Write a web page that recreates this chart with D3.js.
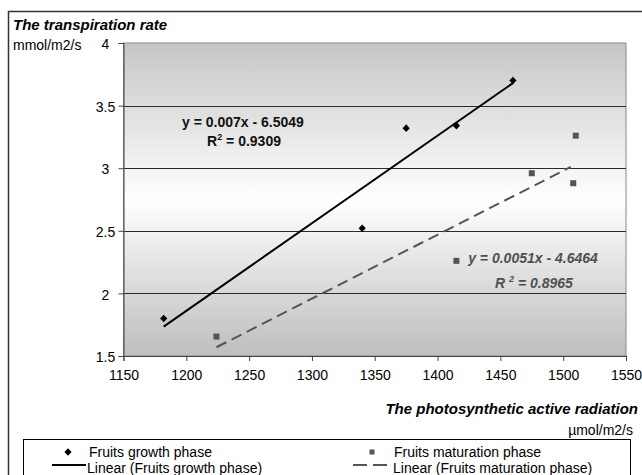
<!DOCTYPE html>
<html><head><meta charset="utf-8">
<script src="https://cdn.jsdelivr.net/npm/d3@7"></script>
<style>
html,body{margin:0;padding:0;background:#fff;}
svg{display:block;font-family:"Liberation Sans",Arial,sans-serif;}
</style></head>
<body><svg id="c" width="642" height="475"></svg>
<script>
// ---- data ----
const growthX = [1182, 1340, 1375, 1415, 1460];
const growthY = [1.80, 2.52, 3.32, 3.34, 3.70];
const maturX = [1224, 1415, 1475, 1508, 1510];
const maturY = [1.655, 2.26, 2.96, 2.88, 3.26];
const growthTrendX = [1182, 1460];
const growthTrendY = [1.735, 3.68];
const maturTrendX = [1224, 1506];
const maturTrendY = [1.57, 3.01];
const xTicks = [1150, 1200, 1250, 1300, 1350, 1400, 1450, 1500, 1550];
const yTicks = [1.5, 2, 2.5, 3, 3.5, 4];
const seriesNames = ["Fruits growth phase", "Fruits maturation phase",
  "Linear (Fruits growth phase)", "Linear (Fruits maturation phase)"];

const svg = d3.select("#c");
const x = d3.scaleLinear().domain([1150, 1550]).range([123.5, 626]);
const y = d3.scaleLinear().domain([1.5, 4]).range([356, 43]);

// outer border
svg.append("rect").attr("x", 8.5).attr("y", 11.5).attr("width", 640).attr("height", 470)
  .attr("fill", "none").attr("stroke", "#333").attr("stroke-width", 1.5);

// gradient
const defs = svg.append("defs");
const g = defs.append("linearGradient").attr("id", "bg").attr("x1", 0).attr("y1", 0).attr("x2", 0).attr("y2", 1);
[[0, "#c6c6c6"], [0.5, "#ffffff"], [1, "#bebebe"]].forEach(s =>
  g.append("stop").attr("offset", s[0]).attr("stop-color", s[1]));

svg.append("rect").attr("x", x(1150)).attr("y", y(4)).attr("width", x(1550) - x(1150))
  .attr("height", y(1.5) - y(4)).attr("fill", "url(#bg)").attr("stroke", "#888").attr("stroke-width", 1);

// gridlines
svg.append("g").selectAll("line").data(yTicks.filter(d => d > 1.5 && d < 4)).join("line")
  .attr("x1", x(1150)).attr("x2", x(1550)).attr("y1", d => Math.round(y(d)) + 0.5).attr("y2", d => Math.round(y(d)) + 0.5)
  .attr("stroke", "#2a2a2a").attr("stroke-width", 1);

// axes
const yAxis = d3.axisLeft(y).tickValues(yTicks).tickSize(5).tickFormat(d3.format("~g"));
const ya = svg.append("g").attr("transform", `translate(${x(1150)},0)`).call(yAxis);
ya.select(".domain").attr("stroke", "#444");
ya.selectAll(".tick line").attr("stroke", "#444");
ya.selectAll("text").attr("font-size", 14).attr("fill", "#000").attr("text-anchor", "middle").attr("x", -18).attr("dy", "0.4em");

const xAxis = d3.axisBottom(x).tickValues(xTicks).tickSize(5).tickFormat(d3.format("d"));
const xa = svg.append("g").attr("transform", `translate(0,${y(1.5)})`).call(xAxis);
xa.select(".domain").attr("stroke", "#444");
xa.selectAll(".tick line").attr("stroke", "#444");
xa.selectAll("text").attr("font-size", 14).attr("fill", "#000").attr("y", 10).attr("dy", "1em");

// trend lines
const line = d3.line().x(d => x(d[0])).y(d => y(d[1]));
svg.append("path").datum(growthTrendX.map((v, i) => [v, growthTrendY[i]]))
  .attr("d", line).attr("stroke", "#000").attr("stroke-width", 2).attr("fill", "none");
svg.append("path").datum(maturTrendX.map((v, i) => [v, maturTrendY[i]]))
  .attr("d", line).attr("stroke", "#555").attr("stroke-width", 2).attr("stroke-dasharray", "11,6").attr("fill", "none");

// points
const diamond = "M0,-3.8L3.6,0L0,3.8L-3.6,0Z";
svg.append("g").selectAll("path").data(growthX.map((v, i) => [v, growthY[i]])).join("path")
  .attr("d", diamond).attr("transform", d => `translate(${x(d[0])},${y(d[1])})`).attr("fill", "#000");
svg.append("g").selectAll("rect").data(maturX.map((v, i) => [v, maturY[i]])).join("rect")
  .attr("x", d => x(d[0]) - 3).attr("y", d => y(d[1]) - 3).attr("width", 6).attr("height", 6).attr("fill", "#555");

// equation labels
const eq1 = svg.append("g").attr("font-weight", "bold").attr("font-size", 14).attr("fill", "#111").attr("text-anchor", "middle");
eq1.append("text").attr("x", 243).attr("y", 127).text("y = 0.007x - 6.5049");
const r1 = eq1.append("text").attr("x", 244).attr("y", 146);
r1.append("tspan").text("R");
r1.append("tspan").attr("font-size", 9).attr("dy", -6).text("2");
r1.append("tspan").attr("dy", 6).text(" = 0.9309");

const eq2 = svg.append("g").attr("font-weight", "bold").attr("font-style", "italic").attr("font-size", 14).attr("fill", "#505050").attr("text-anchor", "middle");
eq2.append("text").attr("x", 533).attr("y", 263).text("y = 0.0051x - 4.6464");
const r2 = eq2.append("text").attr("x", 534).attr("y", 288);
r2.append("tspan").text("R ");
r2.append("tspan").attr("font-size", 9).attr("dy", -6).text("2");
r2.append("tspan").attr("dy", 6).text(" = 0.8965");

// titles
svg.append("text").attr("x", 13).attr("y", 30).attr("font-size", 15).attr("font-weight", "bold").attr("font-style", "italic").text("The transpiration rate");
svg.append("text").attr("x", 13).attr("y", 50).attr("font-size", 14).text("mmol/m2/s");
svg.append("text").attr("x", 638).attr("y", 414).attr("text-anchor", "end").attr("font-size", 15).attr("font-weight", "bold").attr("font-style", "italic").text("The photosynthetic active radiation");
svg.append("text").attr("x", 633).attr("y", 435).attr("text-anchor", "end").attr("font-size", 14).text("µmol/m2/s");

// legend
const lg = svg.append("g");
lg.append("rect").attr("x", 23.5).attr("y", 439.5).attr("width", 607).attr("height", 60).attr("fill", "#fff").attr("stroke", "#000").attr("stroke-width", 1);
lg.append("path").attr("d", diamond).attr("transform", "translate(68,452)").attr("fill", "#000");
lg.append("rect").attr("x", 369.5).attr("y", 449.5).attr("width", 5).attr("height", 5).attr("fill", "#555");
lg.append("line").attr("x1", 52).attr("x2", 86).attr("y1", 465).attr("y2", 465).attr("stroke", "#000").attr("stroke-width", 2);
lg.append("line").attr("x1", 353).attr("x2", 392).attr("y1", 465).attr("y2", 465).attr("stroke", "#555").attr("stroke-width", 2).attr("stroke-dasharray", "14,6");
const lt = lg.append("g").attr("font-size", 14).attr("fill", "#000");
lt.append("text").attr("x", 89).attr("y", 456.5).text(seriesNames[0]);
lt.append("text").attr("x", 394).attr("y", 456.5).text(seriesNames[1]);
lt.append("text").attr("x", 87).attr("y", 472.5).text(seriesNames[2]);
lt.append("text").attr("x", 393).attr("y", 472.5).text(seriesNames[3]);
</script></body></html>
